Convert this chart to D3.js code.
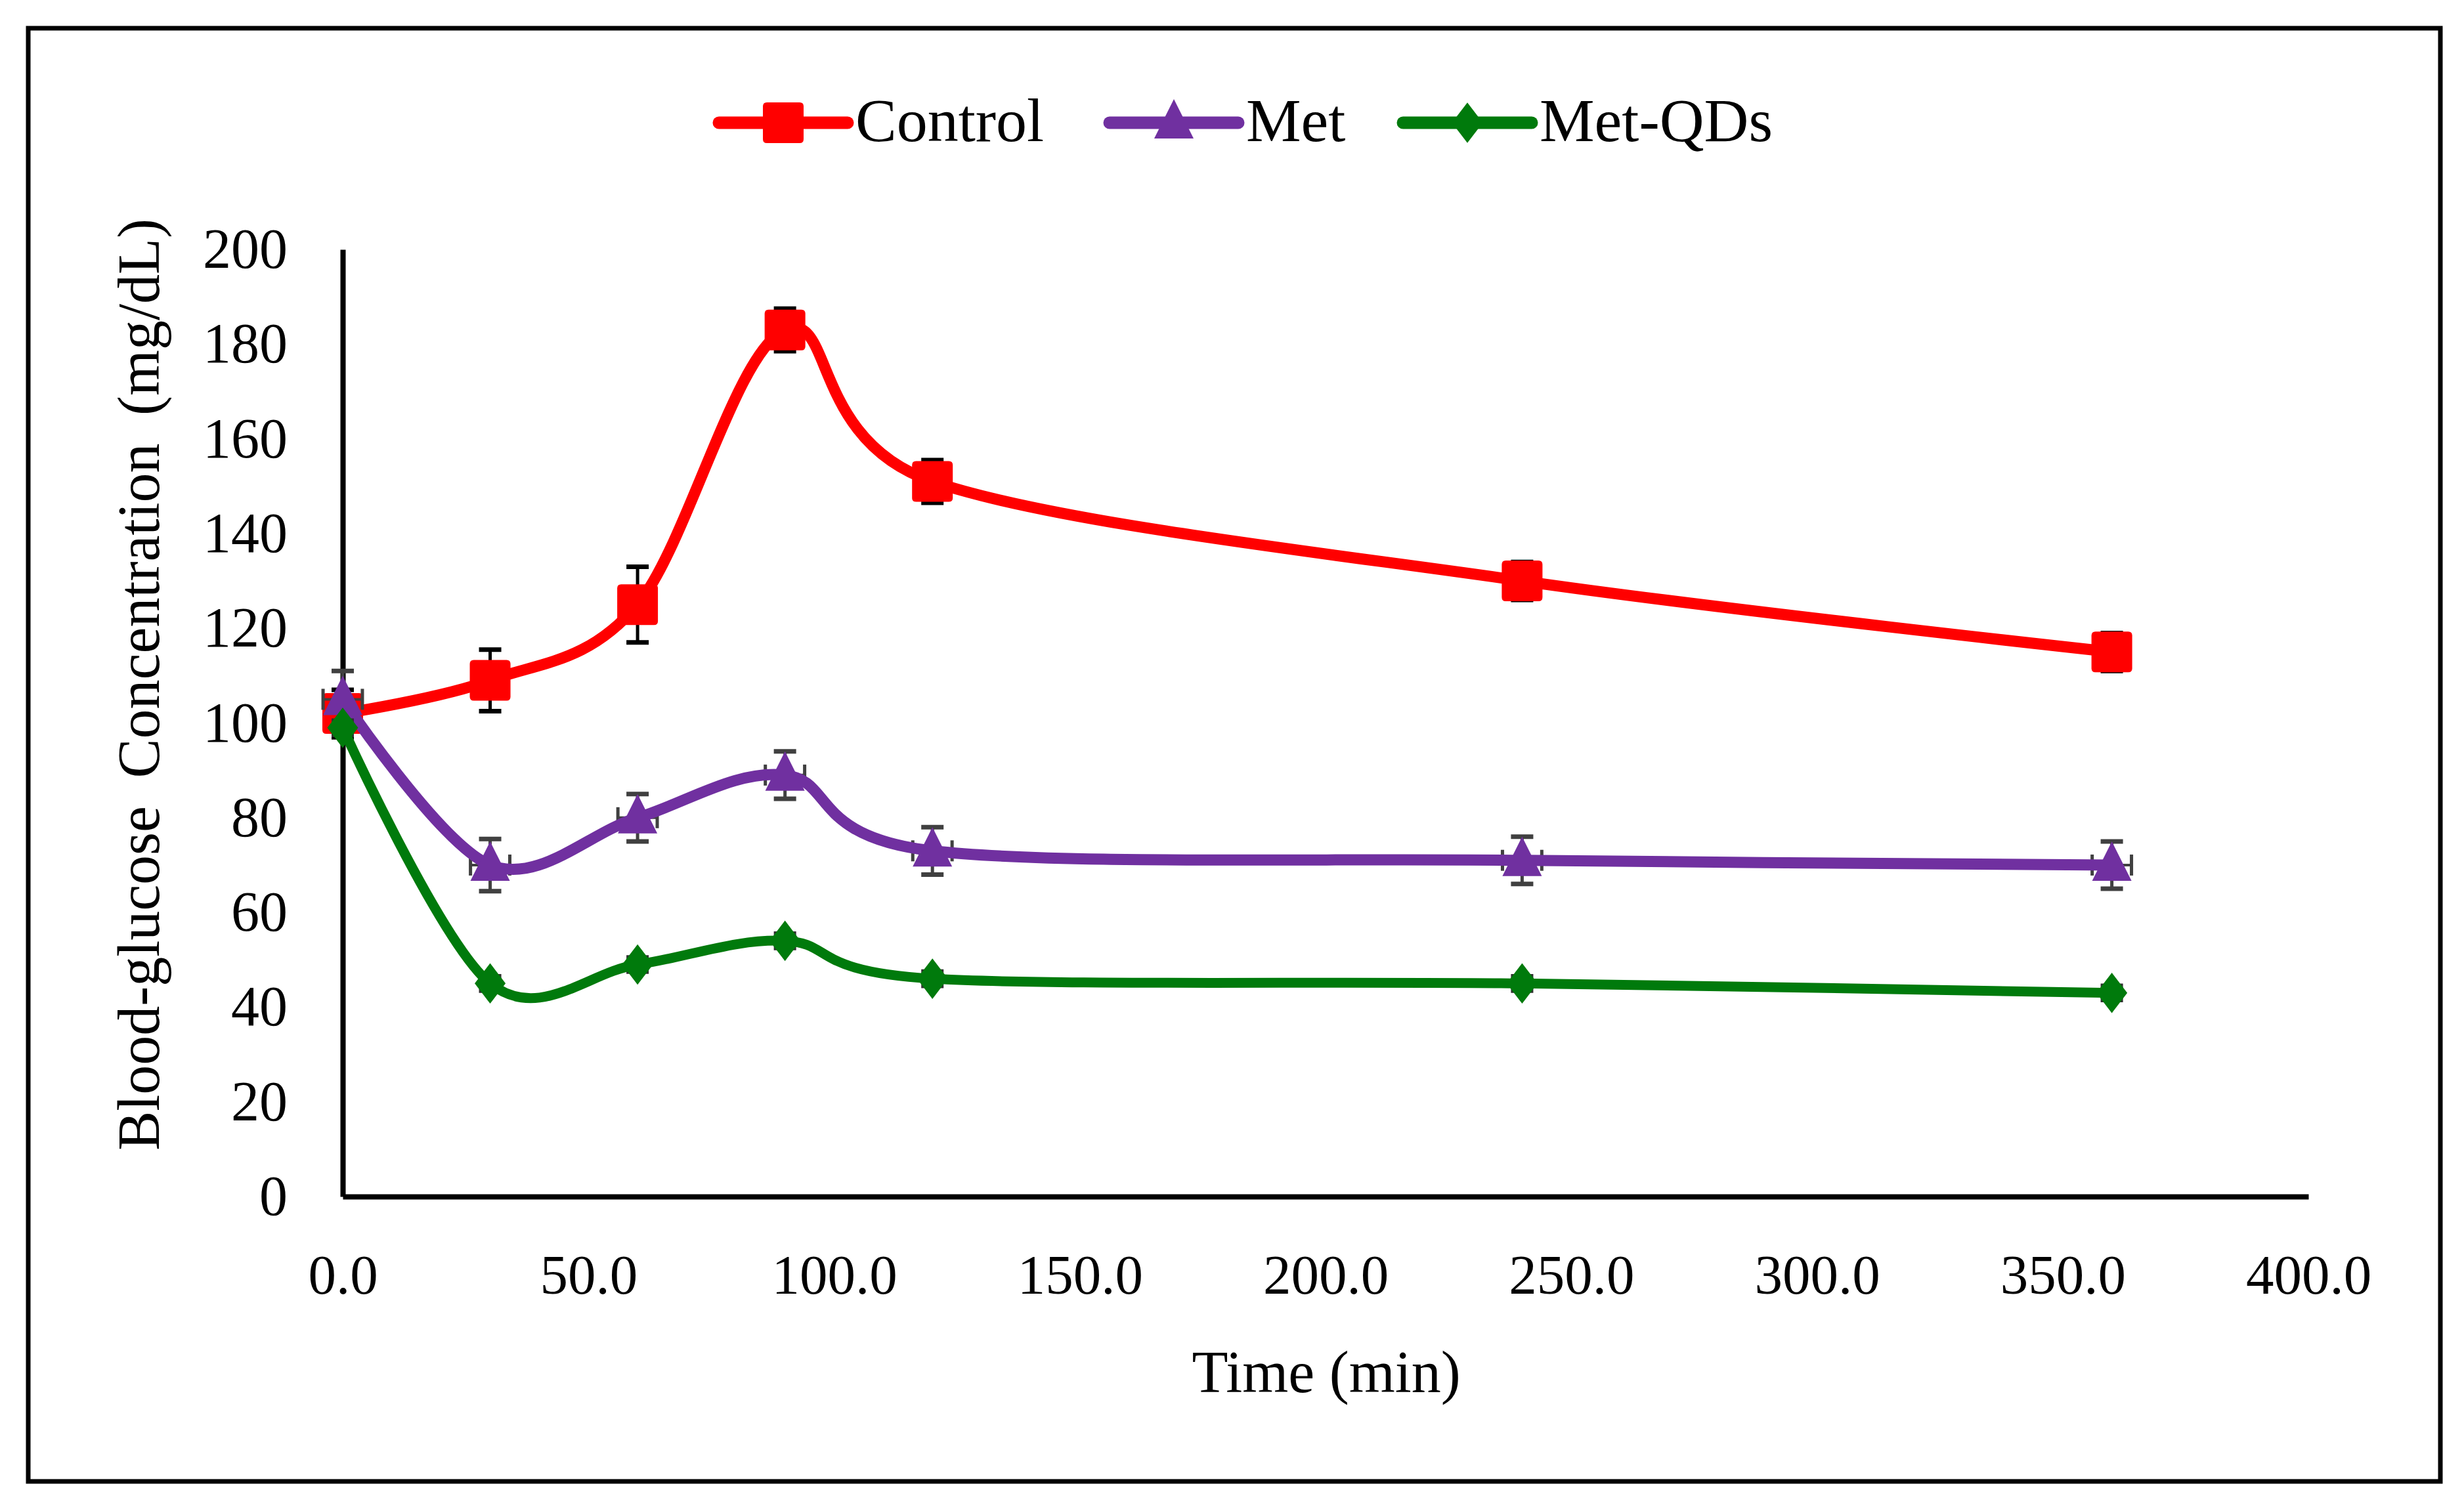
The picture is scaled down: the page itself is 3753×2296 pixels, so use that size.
<!DOCTYPE html>
<html>
<head>
<meta charset="utf-8">
<script src="https://cdn.jsdelivr.net/npm/d3@7"></script>
<style>
  body { margin: 0; background: #fff; }
  svg text { font-family: "Liberation Serif", "Times New Roman", serif; fill: #000; }
</style>
</head>
<body>
<script>
// data
var times = [0, 30, 60, 90, 120, 240, 360];
var seriesNames = ["Control", "Met", "Met-QDs"];
var controlMean = [102, 109, 125, 183, 151, 130, 115];
var controlErr = [5, 6.5, 8, 4.5, 4.5, 4, 4];
var metMean = [105, 70, 80, 89, 73, 71, 70];
var metErr = [6, 5.5, 5, 5, 5, 5, 5];
var metXErr = [4, 4, 4, 4, 4, 4, 4];
var qdsMean = [99, 45, 49, 54, 46, 45, 43];
var qdsErr = [1.5, 1.5, 1.5, 1.5, 1.5, 1.5, 1.5];
var xTicks = [0, 50, 100, 150, 200, 250, 300, 350, 400];
var yTicks = [0, 20, 40, 60, 80, 100, 120, 140, 160, 180, 200];

var width = 3753, height = 2296;

var series = [
  { name: seriesNames[0], mean: controlMean, err: controlErr, xerr: null, color: "#ff0000", errColor: "#000000", shape: "square", lw: 17 },
  { name: seriesNames[1], mean: metMean, err: metErr, xerr: metXErr, color: "#7030a0", errColor: "#404040", shape: "triangle", lw: 17 },
  { name: seriesNames[2], mean: qdsMean, err: qdsErr, xerr: null, color: "#007a0c", errColor: "#303030", shape: "diamond", lw: 15 }
];

var svg = d3.select("body")
  .append("svg")
  .attr("width", width)
  .attr("height", height);

svg.append("rect")
  .attr("width", width)
  .attr("height", height)
  .attr("fill", "#fff");

// outer frame
svg.append("rect")
  .attr("x", 43)
  .attr("y", 43)
  .attr("width", 3674)
  .attr("height", 2214)
  .attr("fill", "none")
  .attr("stroke", "#000")
  .attr("stroke-width", 7);

var x = d3.scaleLinear().domain([0, 400]).range([522, 3516]);
var y = d3.scaleLinear().domain([0, 200]).range([1823, 380]);

// axes
var yAxis = svg.append("g")
  .attr("transform", "translate(" + x(0) + ",0)")
  .call(d3.axisLeft(y).tickValues(yTicks).tickSize(0).tickSizeOuter(0).tickPadding(84));
yAxis.selectAll("text").attr("font-size", 86).style("font-family", "Liberation Serif");
yAxis.select(".domain").attr("stroke", "#000").attr("stroke-width", 8);

var xAxis = svg.append("g")
  .attr("transform", "translate(0," + y(0) + ")")
  .call(d3.axisBottom(x).tickValues(xTicks).tickSize(0).tickSizeOuter(0).tickPadding(88)
    .tickFormat(d3.format(".1f")));
xAxis.selectAll("text").attr("font-size", 85).style("font-family", "Liberation Serif");
xAxis.select(".domain").attr("stroke", "#000").attr("stroke-width", 8);

svg.append("text")
  .attr("x", 2020)
  .attr("y", 2121)
  .attr("text-anchor", "middle")
  .attr("font-size", 90)
  .text("Time (min)");

svg.append("text")
  .attr("transform", "translate(242,1043) rotate(-90)")
  .attr("text-anchor", "middle")
  .attr("font-size", 90)
  .attr("word-spacing", 20)
  .text("Blood-glucose Concentration (mg/dL)");

function markerPath(shape, s) {
  if (shape === "square") {
    var h = s / 2, r = 6;
    return "M" + (-h + r) + "," + (-h) + "H" + (h - r) + "Q" + h + "," + (-h) + " " + h + "," + (-h + r) +
      "V" + (h - r) + "Q" + h + "," + h + " " + (h - r) + "," + h + "H" + (-h + r) +
      "Q" + (-h) + "," + h + " " + (-h) + "," + (h - r) + "V" + (-h + r) + "Q" + (-h) + "," + (-h) + " " + (-h + r) + "," + (-h) + "Z";
  }
  if (shape === "triangle") {
    return "M0," + (-s * 0.6) + "L" + (s * 0.5) + "," + (s * 0.4) + "L" + (-s * 0.5) + "," + (s * 0.4) + "Z";
  }
  return "M0," + (-s * 0.55) + "L" + (s * 0.42) + ",0L0," + (s * 0.55) + "L" + (-s * 0.42) + ",0Z";
}
var markerSize = { square: 62, triangle: 60, diamond: 56 };

var line = d3.line()
  .x(function (d) { return x(d.t); })
  .y(function (d) { return y(d.v); })
  .curve(d3.curveCardinal.tension(0));

series.forEach(function (s) {
  var pts = times.map(function (t, i) {
    return { t: t, v: s.mean[i], e: s.err[i], xe: s.xerr ? s.xerr[i] : 0 };
  });
  var g = svg.append("g");

  // error bars under the line
  var eb = g.selectAll(".eb").data(pts).enter().append("g")
    .attr("stroke", s.errColor);
  eb.append("line")
    .attr("x1", function (d) { return x(d.t); })
    .attr("x2", function (d) { return x(d.t); })
    .attr("y1", function (d) { return y(d.v + d.e); })
    .attr("y2", function (d) { return y(d.v - d.e); })
    .attr("stroke-width", 5);
  [1, -1].forEach(function (sg) {
    eb.append("line")
      .attr("x1", function (d) { return x(d.t) - 17; })
      .attr("x2", function (d) { return x(d.t) + 17; })
      .attr("y1", function (d) { return y(d.v + sg * d.e); })
      .attr("y2", function (d) { return y(d.v + sg * d.e); })
      .attr("stroke-width", 7);
  });
  if (s.xerr) {
    eb.append("line")
      .attr("x1", function (d) { return x(d.t - d.xe); })
      .attr("x2", function (d) { return x(d.t + d.xe); })
      .attr("y1", function (d) { return y(d.v); })
      .attr("y2", function (d) { return y(d.v); })
      .attr("stroke-width", 4);
    [1, -1].forEach(function (sg) {
      eb.append("line")
        .attr("x1", function (d) { return x(d.t + sg * d.xe); })
        .attr("x2", function (d) { return x(d.t + sg * d.xe); })
        .attr("y1", function (d) { return y(d.v) - 16; })
        .attr("y2", function (d) { return y(d.v) + 16; })
        .attr("stroke-width", 5);
    });
  }

  g.append("path")
    .datum(pts)
    .attr("d", line)
    .attr("fill", "none")
    .attr("stroke", s.color)
    .attr("stroke-width", s.lw)
    .attr("stroke-linecap", "round");

  g.selectAll(".mk").data(pts).enter().append("path")
    .attr("transform", function (d) { return "translate(" + x(d.t) + "," + y(d.v) + ")"; })
    .attr("d", markerPath(s.shape, markerSize[s.shape]))
    .attr("fill", s.color);
});

// legend
var legendX = [1095, 1690, 2137];
var legend = svg.selectAll(".legend")
  .data(series)
  .enter()
  .append("g")
  .attr("transform", function (d, i) { return "translate(" + legendX[i] + ",187)"; });
legend.append("line")
  .attr("x1", 0)
  .attr("x2", 196)
  .attr("stroke", function (d) { return d.color; })
  .attr("stroke-width", 19)
  .attr("stroke-linecap", "round");
legend.append("path")
  .attr("transform", "translate(98,0)")
  .attr("d", function (d) { return markerPath(d.shape, markerSize[d.shape]); })
  .attr("fill", function (d) { return d.color; });
legend.append("text")
  .attr("x", 208)
  .attr("y", 28)
  .attr("font-size", 94)
  .text(function (d) { return d.name; });
</script>
</body>
</html>
